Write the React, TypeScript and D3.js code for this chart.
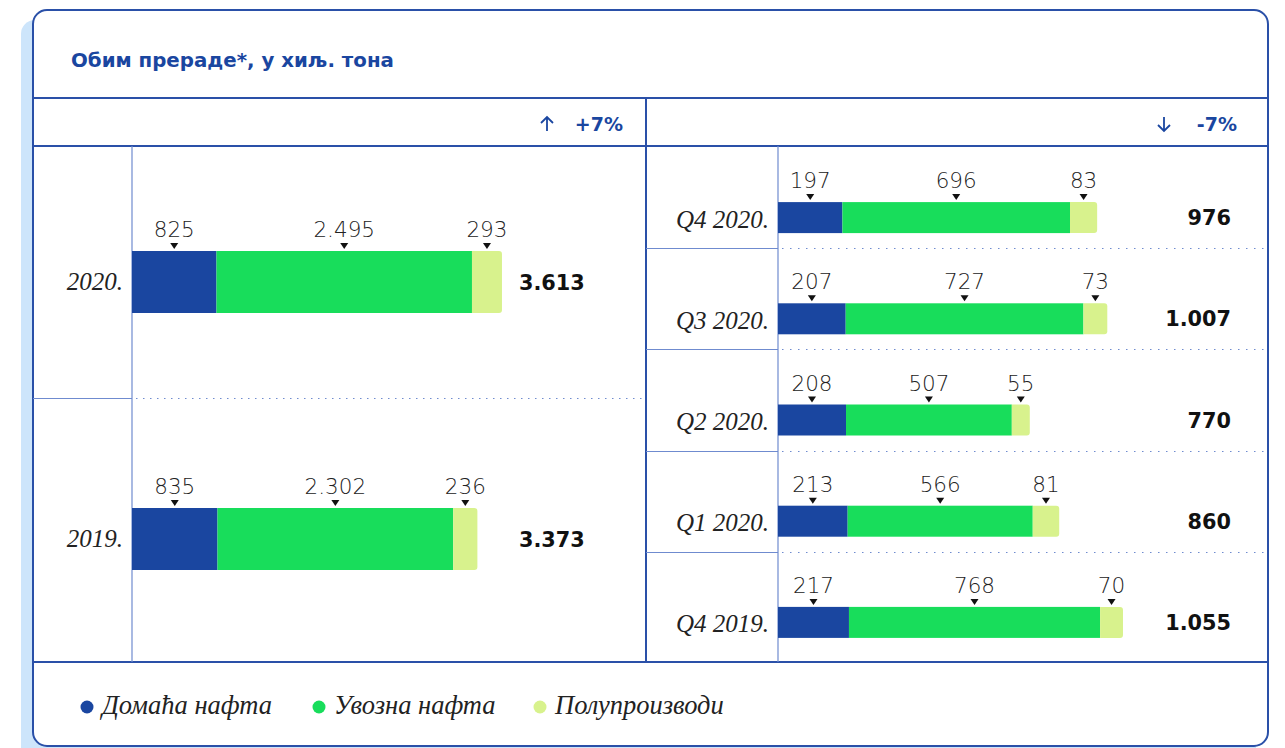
import React from 'react';
import * as d3 from 'd3';

const annualCategories = ['2020.', '2019.'];
const annualDomestic = [825, 835];
const annualImported = [2495, 2302];
const annualSemi = [293, 236];
const annualTotals = [3613, 3373];

const quarterCategories = ['Q4 2020.', 'Q3 2020.', 'Q2 2020.', 'Q1 2020.', 'Q4 2019.'];
const quarterDomestic = [197, 207, 208, 213, 217];
const quarterImported = [696, 727, 507, 566, 768];
const quarterSemi = [83, 73, 55, 81, 70];
const quarterTotals = [976, 1007, 770, 860, 1055];

const seriesNames = ['Домаћа нафта', 'Увозна нафта', 'Полупроизводи'];
const seriesColors = ['#1a46a0', '#18dd5b', '#d8f28d'];

const titleText = 'Обим прераде*, у хиљ. тона';
const leftChange = '+7%';
const rightChange = '-7%';

const BORDER = '#2a50a8';
const INNER = '#6f8bcf';
const BOLD_FONT = '"DejaVu Sans", sans-serif';
const VALUE_FONT = '"DejaVu Sans", sans-serif';
const LABEL_FONT = '"Liberation Serif", "DejaVu Serif", serif';

const fmt = (v: number) => d3.format(',')(v).replace(/,/g, '.');

type Seg = { key: number; x0: number; x1: number; v: number };

function buildSegments(rows: number[][]) {
  const stack = d3.stack<number[]>().keys(['0', '1', '2']).value((d, k) => d[+k]);
  return stack(rows);
}

function StackedBars(props: {
  cats: string[];
  dom: number[];
  imp: number[];
  semi: number[];
  totals: number[];
  x: d3.ScaleLinear<number, number>;
  y: d3.ScaleBand<string>;
  barH: number;
  totalX: number;
  totalAnchor: 'start' | 'end';
  labelX: number;
  labelDy: number;
}) {
  const { cats, dom, imp, semi, totals, x, y, barH, totalX, totalAnchor, labelX, labelDy } = props;
  const rows = cats.map((_, i) => [dom[i], imp[i], semi[i]]);
  const series = buildSegments(rows);
  return (
    <g>
      {cats.map((c, i) => {
        const cy = (y(c) as number) + y.bandwidth() / 2;
        const top = cy - barH / 2;
        const segs: Seg[] = series.map((s, k) => ({ key: k, x0: s[i][0], x1: s[i][1], v: rows[i][k] }));
        return (
          <g key={c}>
            {segs.map((s) => {
              const x0 = x(s.x0);
              const x1 = x(s.x1);
              if (s.key === 2) {
                const r = 3;
                const d = `M${x0},${top}H${x1 - r}Q${x1},${top} ${x1},${top + r}V${top + barH - r}Q${x1},${top + barH} ${x1 - r},${top + barH}H${x0}Z`;
                return <path key={s.key} d={d} fill={seriesColors[s.key]} />;
              }
              return <rect key={s.key} x={x0} y={top} width={x1 - x0} height={barH} fill={seriesColors[s.key]} />;
            })}
            {segs.map((s) => {
              const mx = (x(s.x0) + x(s.x1)) / 2;
              return (
                <g key={'l' + s.key}>
                  <path d={`M${mx - 4},${top - 8}L${mx + 4},${top - 8}L${mx},${top - 2}Z`} fill="#111" />
                  <text x={mx} y={top - 14} textAnchor="middle" fontFamily={VALUE_FONT} fontWeight={200} fontSize={21.5} fill="#222">
                    {fmt(s.v)}
                  </text>
                </g>
              );
            })}
            <text x={totalX} y={cy + 7.5} textAnchor={totalAnchor} fontFamily={BOLD_FONT} fontWeight={700} fontSize={20.8} fill="#111">
              {fmt(totals[i])}
            </text>
            <text x={labelX} y={cy + labelDy} textAnchor="end" fontFamily={LABEL_FONT} fontStyle="italic" fontSize={25} fill="#222">
              {c}
            </text>
          </g>
        );
      })}
    </g>
  );
}

export default function App() {
  const xLeft = d3.scaleLinear().domain([0, 4000]).range([132, 132 + 409.6]);
  const yLeft = d3.scaleBand<string>().domain(annualCategories).range([153.5, 667.5]);
  const xRight = d3.scaleLinear().domain([0, 1200]).range([778, 778 + 392.4]);
  const yRight = d3.scaleBand<string>().domain(quarterCategories).range([167, 673]);

  const legendX = [80, 312, 533];

  return (
    <svg width={1285} height={748} style={{ position: 'absolute', left: 0, top: 0 }}>
      <rect x={21} y={20} width={1235} height={745} rx={14} fill="#cde5fb" />
      <rect x={33} y={10} width={1235} height={736} rx={14} fill="#fff" stroke={BORDER} strokeWidth={2} />
      <text x={71} y={67} fontFamily={BOLD_FONT} fontWeight={700} fontSize={19.8} fill="#1a46a0">
        {titleText}
      </text>
      <line x1={33} x2={1268} y1={98} y2={98} stroke={BORDER} strokeWidth={2} />
      <line x1={33} x2={1268} y1={146} y2={146} stroke={BORDER} strokeWidth={2} />
      <line x1={33} x2={1268} y1={662} y2={662} stroke={BORDER} strokeWidth={2} />
      <line x1={646} x2={646} y1={98} y2={662} stroke={BORDER} strokeWidth={2} />
      <g stroke="#1a46a0" strokeWidth={1.8} fill="none">
        <path d="M547,131V117M541,123L547,117L553,123" />
        <path d="M1164,117V131M1158,125L1164,131L1170,125" />
      </g>
      <text x={623} y={131} textAnchor="end" fontFamily={BOLD_FONT} fontWeight={700} fontSize={19} fill="#1a46a0">
        {leftChange}
      </text>
      <text x={1237} y={131} textAnchor="end" fontFamily={BOLD_FONT} fontWeight={700} fontSize={19} fill="#1a46a0">
        {rightChange}
      </text>
      <line x1={132} x2={132} y1={146} y2={662} stroke={INNER} strokeWidth={1.2} />
      <line x1={778} x2={778} y1={146} y2={662} stroke={INNER} strokeWidth={1.2} />
      <line x1={33} x2={132} y1={398.5} y2={398.5} stroke={INNER} strokeWidth={1.2} />
      <line x1={136} x2={646} y1={398.5} y2={398.5} stroke={INNER} strokeWidth={1.2} strokeDasharray="1.5 5.5" />
      {quarterCategories.slice(1).map((c) => {
        const yy = Math.round(yRight(c) as number) + 0.5 - 20;
        return (
          <g key={c}>
            <line x1={646} x2={778} y1={yy} y2={yy} stroke={INNER} strokeWidth={1.2} />
            <line x1={782} x2={1264} y1={yy} y2={yy} stroke={INNER} strokeWidth={1.2} strokeDasharray="1.5 6.5" />
          </g>
        );
      })}
      <StackedBars
        cats={annualCategories}
        dom={annualDomestic}
        imp={annualImported}
        semi={annualSemi}
        totals={annualTotals}
        x={xLeft}
        y={yLeft}
        barH={62}
        totalX={519}
        totalAnchor="start"
        labelX={123}
        labelDy={8}
      />
      <StackedBars
        cats={quarterCategories}
        dom={quarterDomestic}
        imp={quarterImported}
        semi={quarterSemi}
        totals={quarterTotals}
        x={xRight}
        y={yRight}
        barH={31}
        totalX={1231}
        totalAnchor="end"
        labelX={769}
        labelDy={10}
      />
      {seriesNames.map((n, i) => (
        <g key={n}>
          <circle cx={legendX[i] + 7} cy={707} r={6.5} fill={seriesColors[i]} />
          <text x={legendX[i] + 22} y={714} fontFamily={LABEL_FONT} fontStyle="italic" fontSize={26.5} fill="#222">
            {n}
          </text>
        </g>
      ))}
    </svg>
  );
}
